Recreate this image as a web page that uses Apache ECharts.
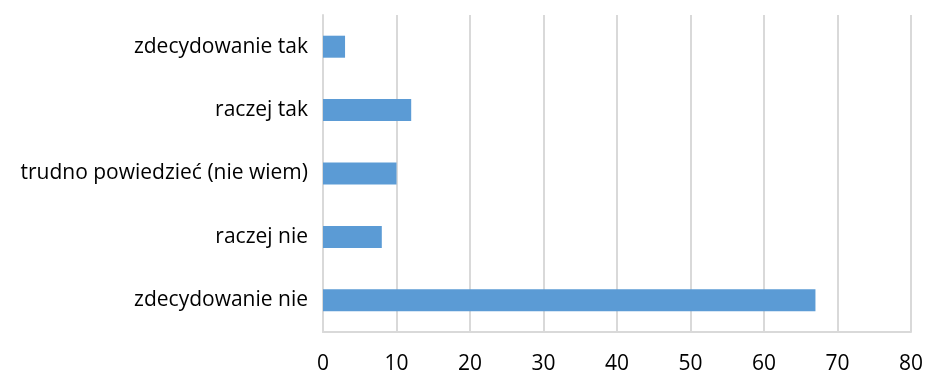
<!DOCTYPE html>
<html>
<head>
<meta charset="utf-8">
<script src="https://cdn.jsdelivr.net/npm/echarts@6/dist/echarts.min.js"></script>
<style>
  html, body { margin: 0; padding: 0; background: #fff; }
  #chart { width: 929px; height: 372px; }
</style>
</head>
<body>
<div id="chart"></div>
<script>
// Answer categories, listed bottom to top as drawn on the category axis
const categories = ['zdecydowanie nie', 'raczej nie', 'trudno powiedzieć (nie wiem)', 'raczej tak', 'zdecydowanie tak'];
// Share of responses per answer
const values = [67, 8, 10, 12, 3];
// Value axis range
const axisMin = 0;
const axisMax = 80;
const axisStep = 10;

const chart = echarts.init(document.getElementById('chart'), null, { renderer: 'canvas' });
const font = 'Open Sans, Lato, sans-serif';

chart.setOption({
  animation: false,
  grid: { left: 323, right: 18, top: 15, bottom: 40, containLabel: false, outerBoundsMode: 'none' },
  xAxis: {
    type: 'value',
    min: axisMin,
    max: axisMax,
    interval: axisStep,
    axisLine: { show: true, lineStyle: { color: '#d9d9d9', width: 2 } },
    axisTick: { show: false },
    splitLine: { show: true, lineStyle: { color: '#d9d9d9', width: 2 } },
    axisLabel: { color: '#000', fontFamily: font, fontSize: 21, margin: 22 }
  },
  yAxis: {
    type: 'category',
    data: categories,
    axisLine: { show: true, lineStyle: { color: '#d9d9d9', width: 2 } },
    axisTick: { show: false },
    axisLabel: { color: '#000', fontFamily: font, fontSize: 21, margin: 15 }
  },
  series: [{
    type: 'bar',
    data: values,
    barWidth: 22,
    itemStyle: { color: '#5b9bd5' }
  }]
});
</script>
</body>
</html>
